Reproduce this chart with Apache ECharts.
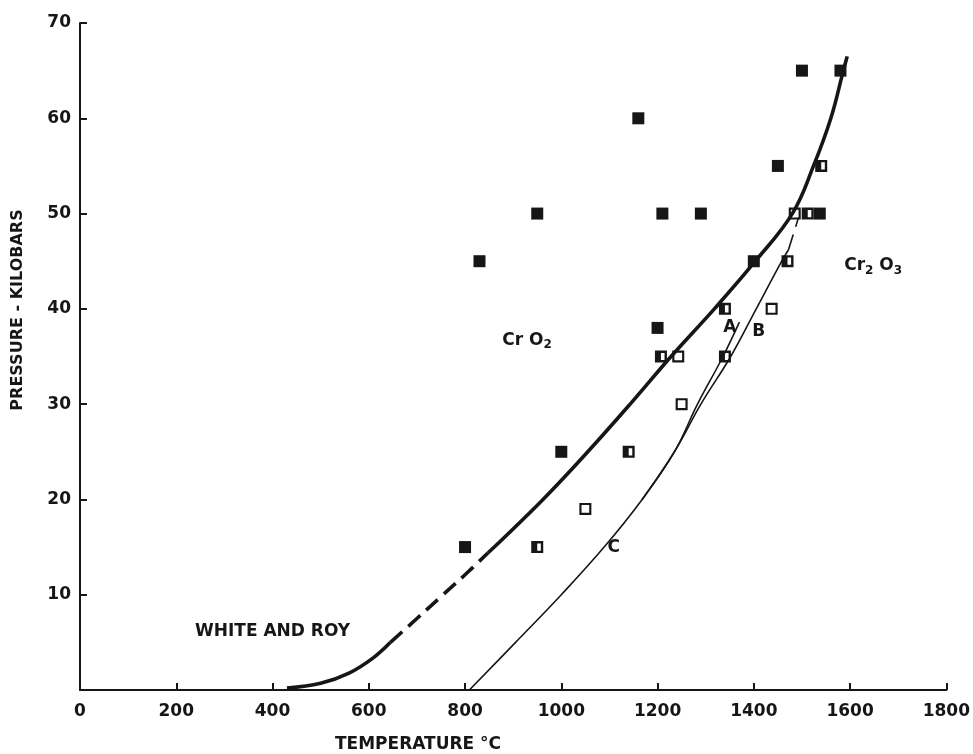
<!DOCTYPE html>
<html>
<head>
<meta charset="utf-8">
<script src="https://cdn.jsdelivr.net/npm/echarts@6/dist/echarts.min.js"></script>
<style>html,body{margin:0;padding:0;background:#fff}#c{width:973px;height:754px}</style>
</head>
<body>
<div id="c"></div>
<script>
// Axis ticks
const xTicks = [0, 200, 400, 600, 800, 1000, 1200, 1400, 1600, 1800];
const yTicks = [10, 20, 30, 40, 50, 60, 70];

// Experimental points [T °C, P kbar]
const filledPts = [[800,15],[830,45],[950,50],[1000,25],[1160,60],[1210,50],[1290,50],[1200,38],[1400,45],[1450,55],[1500,65],[1580,65],[1537,50]];
const halfPts = [[950,15],[1140,25],[1207,35],[1340,35],[1340,40],[1470,45],[1512,50],[1540,55]];
const openPts = [[1050,19],[1250,30],[1437,40],[1485,50],[1243,35]];

// Main (thick) boundary curve: solid low part, dashed middle, solid upper part
const mainLow = [[430,0.2],[500,0.7],[560,1.8],[610,3.4],[645,5.0]];
const mainDashed = [[645,5.0],[700,7.5],[750,9.8],[800,12.1],[848,14.4]];
const mainHigh = [[848,14.4],[962,20],[1055,25],[1143,30],[1228,35],[1318,40],[1403,45],[1480,50],[1524,55],[1560,60],[1586,65],[1594,66.5]];

// Thin curves: C continuing into A, and branch B
const curveCA = [[809,0],[905,5],[1000,10],[1089,15],[1168,20],[1235,25],[1283,30],[1336,35],[1370,38.6]];
const curveB = [[1168,20],[1235,25],[1290,30],[1352,35],[1405,40],[1458,45],[1472,46.2]];
const curveBDashed = [[1472,46.2],[1493,49.6]];

// Text annotations [T, P, text]
const annotations = [
  [400, 6.1, 'WHITE AND ROY'],
  [929, 36.7, '{n|Cr}{n| O}{s|2}'],
  [1648, 44.5, '{n|Cr}{s|2}{n| O}{s|3}'],
  [1350, 38.0, 'A'],
  [1410, 37.6, 'B'],
  [1109, 14.9, 'C']
];

const INK = '#161616';
const FONT = '"DejaVu Sans", "Liberation Sans", sans-serif';

const symFilled = 'path://M0,0H10V10H0Z';
const symHalf = 'path://M0,0H10V10H0Z M5,2V8H8V2Z';
const symOpen = 'path://M0,0H10V10H0Z M1.8,1.8V8.2H8.2V1.8Z';

const chart = echarts.init(document.getElementById('c'), null, {renderer: 'canvas'});

function line(data, width, dashed) {
  return {
    type: 'line', data: data, showSymbol: false, symbol: 'none', smooth: 0.4,
    lineStyle: {color: INK, width: width, type: dashed ? [16, 8] : 'solid', cap: 'butt'},
    z: 2, silent: true
  };
}
function pts(data, sym) {
  return {
    type: 'scatter', data: data, symbol: sym, symbolSize: 12,
    itemStyle: {color: INK, opacity: 1}, z: 5, silent: true
  };
}

chart.setOption({
  animation: false,
  backgroundColor: '#fff',
  grid: {left: 80, right: 25, top: 23, bottom: 64, containLabel: false},
  xAxis: {
    type: 'value', min: 0, max: 1800, interval: 200,
    axisLine: {show: true, onZero: false, lineStyle: {color: INK, width: 2}},
    axisTick: {show: true, inside: true, length: 7, lineStyle: {color: INK, width: 2}},
    axisLabel: {color: INK, fontSize: 17, fontWeight: 'bold', fontFamily: FONT, margin: 13,
      formatter: v => xTicks.includes(v) ? String(v) : ''},
    splitLine: {show: false}
  },
  yAxis: {
    type: 'value', min: 0, max: 70, interval: 10,
    axisLine: {show: true, onZero: false, lineStyle: {color: INK, width: 2}},
    axisTick: {show: true, inside: true, length: 7, lineStyle: {color: INK, width: 2}},
    axisLabel: {color: INK, fontSize: 17, fontWeight: 'bold', fontFamily: FONT, margin: 9,
      formatter: v => yTicks.includes(v) ? String(v) : ''},
    splitLine: {show: false}
  },
  graphic: [
    {type: 'text', x: 418, y: 745,
      style: {text: 'TEMPERATURE °C', fill: INK, font: 'bold 17px ' + FONT, align: 'center', verticalAlign: 'middle'}},
    {type: 'text', x: 18, y: 310, rotation: Math.PI / 2,
      style: {text: 'PRESSURE - KILOBARS', fill: INK, font: 'bold 16px ' + FONT, align: 'center', verticalAlign: 'middle'}}
  ],
  series: [
    line(mainLow, 3.6, false),
    line(mainDashed, 3.6, true),
    line(mainHigh, 3.6, false),
    line(curveCA, 1.6, false),
    line(curveB, 1.6, false),
    line(curveBDashed, 1.6, true),
    pts(filledPts, symFilled),
    pts(halfPts, symHalf),
    pts(openPts, symOpen),
    {
      type: 'scatter', symbolSize: 0, silent: true, z: 6,
      itemStyle: {color: INK, opacity: 1},
      data: annotations.map(a => ({value: [a[0], a[1]], name: a[2]})),
      label: {
        show: true, position: 'inside', formatter: p => p.name,
        color: INK, fontSize: 17, fontWeight: 'bold', fontFamily: FONT,
        textBorderWidth: 0, textShadowBlur: 0, opacity: 1,
        rich: {
          n: {fontSize: 17, fontWeight: 'bold', fontFamily: FONT, color: INK, textBorderWidth: 0},
          s: {fontSize: 12, fontWeight: 'bold', fontFamily: FONT, color: INK, textBorderWidth: 0, padding: [10, 0, 0, 0]}
        }
      }
    }
  ]
});
</script>
</body>
</html>
